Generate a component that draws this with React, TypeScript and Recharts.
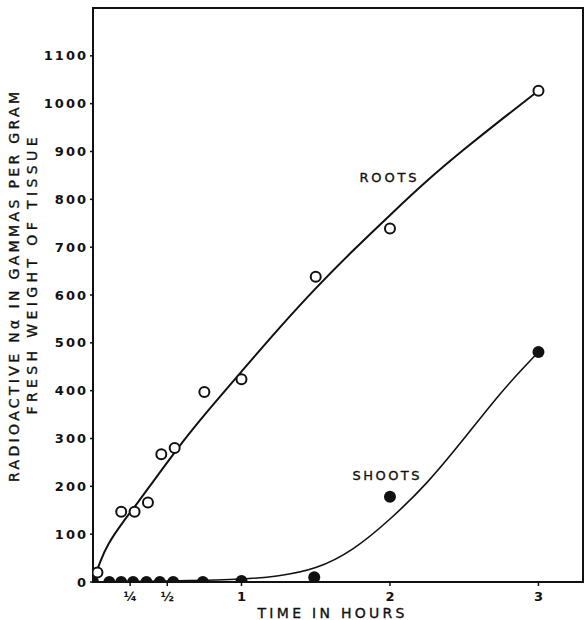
import React from "react";
import { ComposedChart, Line, Scatter, XAxis, YAxis, ReferenceArea } from "recharts";

// time in hours / radioactive Na (gammas per gram fresh weight)
const rootHours = [0.03, 0.19, 0.28, 0.37, 0.46, 0.55, 0.75, 1.0, 1.5, 2.0, 3.0];
const rootValues = [20, 147, 147, 166, 267, 280, 397, 424, 638, 739, 1027];

const shootHours = [0.0, 0.11, 0.19, 0.27, 0.36, 0.45, 0.54, 0.74, 1.0, 1.49, 2.0, 3.0];
const shootValues = [0, 0, 0, 0, 0, 0, 0, 0, 2, 10, 178, 481];

// hand-drawn curves
const rootCurveHours = [0, 0.05, 0.1, 0.2, 0.3, 0.4, 0.5, 0.6, 0.75, 1.0, 1.25, 1.5, 1.75, 2.0, 2.25, 2.5, 2.75, 3.0];
const rootCurveValues = [0, 45, 80, 125, 165, 208, 250, 292, 350, 440, 530, 615, 693, 767, 840, 905, 967, 1027];

const shootCurveHours = [0, 0.5, 1.0, 1.25, 1.5, 1.75, 2.0, 2.25, 2.5, 2.75, 2.9, 3.0];
const shootCurveValues = [0, 2, 5, 12, 26, 65, 130, 205, 300, 398, 448, 481];

const xTicks = [0.25, 0.5, 1, 2, 3];
const xTickLabels = ["¼", "½", "1", "2", "3"];
const yTicks = [0, 100, 200, 300, 400, 500, 600, 700, 800, 900, 1000, 1100];

const zip = (hs: number[], vs: number[]) => hs.map((h, i) => ({ h, v: vs[i] }));

const rootPoints = zip(rootHours, rootValues);
const shootPoints = zip(shootHours, shootValues);
const rootCurve = zip(rootCurveHours, rootCurveValues);
const shootCurve = zip(shootCurveHours, shootCurveValues);

const INK = "#111";
const FONT = "'DejaVu Sans', sans-serif";

const OpenDot = (p: any) => (
  <circle cx={p.cx} cy={p.cy} r={5} fill="#fff" stroke={INK} strokeWidth={2} />
);
const FilledDot = (p: any) => <circle cx={p.cx} cy={p.cy} r={6} fill={INK} />;

export default function App() {
  return (
    <div style={{ position: "absolute", left: 0, top: 0, width: 585, height: 620, background: "#fff" }}>
      <ComposedChart width={585} height={620} margin={{ top: 8, right: 2, left: 0, bottom: 8 }}>
        <XAxis
          dataKey="h"
          type="number"
          domain={[0, 3.3]}
          ticks={xTicks}
          tickFormatter={(v: number) => xTickLabels[xTicks.indexOf(v)]}
          height={30}
          tickSize={4}
          tickMargin={6}
          axisLine={{ stroke: INK, strokeWidth: 2 }}
          tickLine={{ stroke: INK, strokeWidth: 1.5 }}
          tick={{ fill: INK, fontSize: 13, fontFamily: FONT, fontWeight: "bold" }}
          allowDataOverflow
        />
        <YAxis
          dataKey="v"
          type="number"
          domain={[0, 1200]}
          ticks={yTicks}
          width={93}
          tickSize={3}
          tickMargin={2}
          axisLine={{ stroke: INK, strokeWidth: 2 }}
          tickLine={{ stroke: INK, strokeWidth: 1.5 }}
          tick={{ fill: INK, fontSize: 13, fontFamily: FONT, fontWeight: "bold", letterSpacing: 2 }}
          allowDataOverflow
        />
        <ReferenceArea
          x1={0}
          x2={3.3}
          y1={0}
          y2={1200}
          fill="none"
          fillOpacity={0}
          stroke={INK}
          strokeWidth={2}
          strokeOpacity={1}
          ifOverflow="visible"
        />
        <Line
          data={rootCurve}
          dataKey="v"
          type="basis"
          stroke={INK}
          strokeWidth={2}
          dot={false}
          activeDot={false}
          isAnimationActive={false}
        />
        <Line
          data={shootCurve}
          dataKey="v"
          type="basis"
          stroke={INK}
          strokeWidth={1.6}
          dot={false}
          activeDot={false}
          isAnimationActive={false}
        />
        <Scatter data={shootPoints} dataKey="v" shape={FilledDot} isAnimationActive={false} />
        <Scatter data={rootPoints} dataKey="v" shape={OpenDot} isAnimationActive={false} />
      </ComposedChart>

      <svg
        width={585}
        height={620}
        style={{ position: "absolute", left: 0, top: 0, pointerEvents: "none" }}
        fontFamily={FONT}
        fill={INK}
        stroke={INK}
        strokeWidth={0.35}
      >
        <text
          x={14}
          y={287}
          transform="rotate(-90 14 287)"
          textAnchor="middle"
          dominantBaseline="central"
          fontSize={14}
          textLength={390}
          lengthAdjust="spacing"
        >
          RADIOACTIVE Nα IN GAMMAS PER GRAM
        </text>
        <text
          x={32}
          y={276}
          transform="rotate(-90 32 276)"
          textAnchor="middle"
          dominantBaseline="central"
          fontSize={14}
          textLength={277}
          lengthAdjust="spacing"
        >
          FRESH WEIGHT OF TISSUE
        </text>
        <text x={331} y={613} textAnchor="middle" dominantBaseline="central" fontSize={14} textLength={147} lengthAdjust="spacing">
          TIME IN HOURS
        </text>
        <text x={388} y={177} textAnchor="middle" dominantBaseline="central" fontSize={13} textLength={57} lengthAdjust="spacing">
          ROOTS
        </text>
        <text x={386} y={475} textAnchor="middle" dominantBaseline="central" fontSize={13} textLength={67} lengthAdjust="spacing">
          SHOOTS
        </text>
      </svg>
    </div>
  );
}
